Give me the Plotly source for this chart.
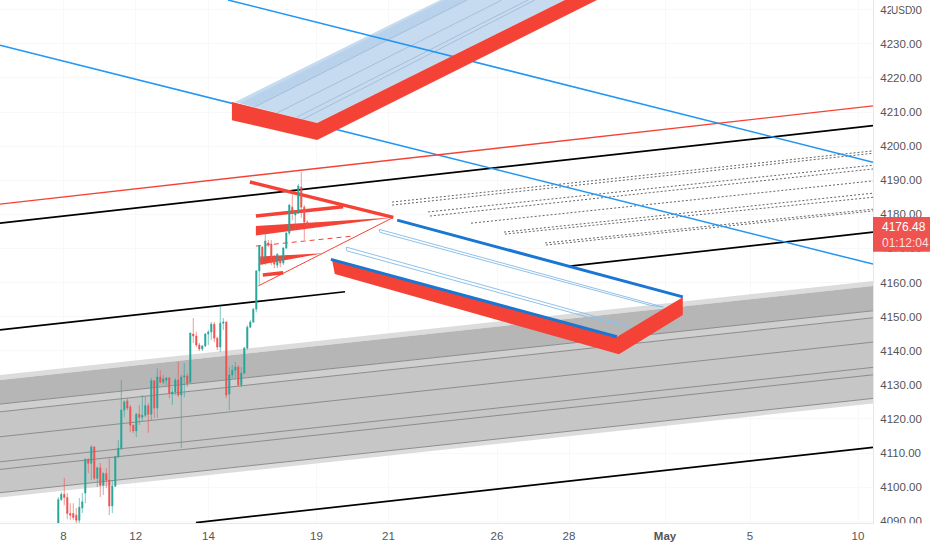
import plotly.graph_objects as go

BAR_START = 19.43
opens = [4088.9,4096.4,4097.9,4097.0,4092.3,4092.3,4091.8,4090.3,4093.9,4098.3,4108.1,4107.0,4111.8,4102.6,4105.7,4100.6,4104.0,4102.1,4094.5,4100.3,4108.9,4111.4,4122.6,4125.3,4123.5,4118.2,4116.5,4121.4,4120.5,4121.1,4123.9,4121.4,4131.2,4123.2,4132.3,4130.8,4131.4,4132.0,4127.3,4127.9,4131.4,4127.0,4132.3,4132.6,4130.8,4144.9,4144.3,4141.7,4140.5,4141.4,4144.9,4145.5,4147.8,4143.7,4141.1,4148.1,4148.4,4127.3,4132.9,4134.3,4135.2,4130.0,4133.4,4140.8,4146.9,4148.4,4152.2,4163.4,4170.4,4167.2,4171.6,4171.3,4167.2,4165.1,4167.5,4165.7,4170.1,4174.5,4182.1,4179.8,4180.4,4188.0,4182.1,4177.7]
highs = [4097.1,4098.6,4102.7,4098.3,4095.3,4095.3,4093.9,4096.8,4098.3,4108.5,4108.5,4112.3,4112.0,4106.0,4107.1,4104.4,4105.6,4108.5,4102.1,4109.1,4113.8,4131.4,4125.5,4126.1,4124.1,4118.2,4121.8,4124.1,4127.0,4126.7,4124.7,4132.0,4131.4,4134.9,4134.3,4132.9,4132.3,4132.3,4129.4,4132.0,4136.7,4132.9,4136.4,4133.4,4145.3,4149.6,4145.6,4142.3,4141.7,4145.2,4146.1,4148.4,4148.4,4144.0,4153.1,4149.6,4148.7,4135.2,4135.8,4136.7,4135.8,4135.2,4141.1,4147.5,4149.0,4152.5,4163.7,4171.0,4170.7,4175.4,4172.5,4172.5,4168.1,4168.6,4167.8,4170.4,4174.8,4183.0,4186.5,4181.3,4188.9,4192.4,4182.7,4178.3]
lows = [4087.4,4095.9,4094.7,4090.6,4090.3,4090.3,4089.5,4089.5,4092.4,4095.3,4104.1,4102.1,4102.1,4100.0,4097.1,4097.7,4099.7,4091.8,4092.4,4100.0,4108.5,4110.9,4120.5,4122.6,4116.1,4115.9,4114.7,4118.2,4119.4,4120.5,4115.9,4119.7,4120.3,4120.3,4130.5,4130.2,4129.9,4126.1,4124.1,4127.0,4126.4,4111.5,4126.4,4129.4,4130.5,4142.3,4141.1,4139.9,4139.9,4141.1,4141.7,4143.1,4142.5,4140.2,4139.6,4146.1,4126.1,4122.6,4132.0,4132.0,4129.4,4129.4,4133.2,4140.2,4146.7,4148.1,4151.3,4159.3,4165.1,4165.1,4170.4,4165.1,4164.2,4164.2,4164.5,4165.1,4169.8,4173.9,4178.3,4175.4,4180.1,4178.9,4172.5,4176.0]
closes = [4096.4,4097.9,4097.0,4092.3,4091.8,4091.1,4090.3,4094.1,4095.7,4108.1,4107.0,4111.8,4102.6,4105.7,4100.6,4104.0,4102.1,4094.5,4100.3,4108.9,4111.4,4122.6,4125.0,4123.2,4118.2,4116.5,4121.4,4120.5,4121.1,4123.9,4121.4,4131.2,4123.2,4132.3,4130.8,4131.7,4132.0,4127.6,4127.9,4131.4,4127.0,4132.3,4132.6,4130.5,4145.2,4144.3,4141.7,4140.5,4141.4,4144.9,4145.5,4147.8,4143.7,4141.1,4148.1,4148.4,4127.0,4132.9,4134.3,4135.2,4130.0,4133.4,4140.8,4146.9,4148.4,4152.2,4163.4,4170.7,4166.9,4172.2,4171.0,4166.0,4165.4,4168.3,4165.7,4170.1,4174.5,4182.7,4180.7,4180.7,4188.3,4182.1,4177.7,4176.48]
bars = [BAR_START + i for i in range(len(opens))]

x_ticks = [21.17, 45.23, 69.5, 105.5, 129.5, 165.67, 189.67, 221.67, 250, 286]
x_labels = ["8", "12", "14", "19", "21", "26", "28", "<b>May</b>", "5", "10"]
price_ticks = [4090 + 10 * i for i in range(16)]

X_END = 291
Y_TOP = 4242.84
GREEN, RED = "#26a69a", "#ef5350"
DRAW_RED = "#f44336"
LINE_BLUE, THICK_BLUE = "#2196f3", "#1976d2"

# regression band: value at the left and the right edge of the chart
band_levels = {
    "outer_top": (4132.87, 4160.43), "dark_top": (4131.40, 4158.97),
    "a": (4124.36, 4151.72), "b": (4122.10, 4149.67), "c": (4114.77, 4142.54),
    "d": (4107.44, 4135.13), "e": (4105.21, 4132.95),
    "inner_bottom": (4098.38, 4126.03), "outer_bottom": (4096.94, 4124.57),
}
# trend lines: bar0, price0, bar1, price1
black_lines = [(0, 4177.4, X_END, 4206.0), (0, 4146.1, 115, 4157.3),
               (190, 4164.8, X_END, 4174.8), (65.3, 4089.6, X_END, 4111.7)]
blue_lines = [(76, Y_TOP, X_END, 4195.3), (0, 4229.6, X_END, 4165.4)]
red_line = (0, 4183.0, X_END, 4211.8)
dotted_lines = [(130.7, 4183.6, X_END, 4198.6), (130.7, 4182.7, X_END, 4197.9),
                (142.7, 4180.7, X_END, 4194.4), (143.3, 4179.5, X_END, 4193.3),
                (157, 4177.4, X_END, 4189.8), (168, 4174.8, X_END, 4186.2),
                (168.3, 4174.2, X_END, 4185.0), (181.7, 4171.6, X_END, 4181.5),
                (182, 4171.0, X_END, 4181.0)]
# upper block
top_face = [(78.3, 4212.9), (105.7, 4206.8), (188.3, Y_TOP), (146.7, Y_TOP)]
top_dark = [(80, 4212.6), (85, 4211.5), (155.7, Y_TOP), (148.3, Y_TOP)]
top_side = [(77.3, 4212.9), (105.7, 4206.8), (188.3, Y_TOP), (199, Y_TOP), (105.7, 4201.8), (77.3, 4207.6)]
top_inner = [(85, 4211.5, 155.7, Y_TOP), (92.3, 4209.7, 167.3, Y_TOP),
             (99, 4208.5, 176, Y_TOP), (101, 4207.9, 178.3, Y_TOP)]
# lower block
low_side = [(110.7, 4166.6), (205.6, 4144.0), (227.6, 4155.7), (227.6, 4150.5), (206.3, 4139.0), (111.6, 4162.5)]
low_edges = [(110.3, 4166.8, 205.6, 4144.1), (132.4, 4178.3, 227.6, 4155.8)]
low_outlines = [[(126.4, 4175.6), (221.1, 4152.8), (217, 4153.3), (126.7, 4174.7)],
                [(115.4, 4170.4), (210, 4147.2), (205.7, 4147.5), (115.6, 4169.3)]]
# pennant drawing
pennant_thick = [(83.3, 4189.5, 131.1, 4179.1, 3.5), (85.3, 4179.5, 114.4, 4182.2, 3.5), (87.6, 4162.2, 94.4, 4162.9, 3.5)]
pennant_wedges = [[(85.3, 4176.6), (131, 4179.1), (85.3, 4173.8)],
                  [(86.7, 4167.6), (107.7, 4168.6), (86.7, 4165.2)]]
pennant_thin = (86.1, 4159.0, 131.1, 4179.1)
pennant_dash = (85.3, 4170.7, 117.3, 4173.6)


def poly(points, fill, line=None, width=0):
    path = "M" + " L".join(f"{x},{y}" for x, y in points) + " Z"
    return dict(type="path", xref="x", yref="y", path=path, fillcolor=fill, layer="between",
                line=dict(color=line or fill, width=width))


def seg(s, color, width, dash="solid"):
    return dict(type="line", xref="x", yref="y", x0=s[0], y0=s[1], x1=s[2], y1=s[3], layer="between",
                line=dict(color=color, width=width, dash=dash))


def band(upper, lower, fill):
    u, l = band_levels[upper], band_levels[lower]
    return poly([(0, u[0]), (X_END, u[1]), (X_END, l[1]), (0, l[0])], fill)


shapes = [
    band("outer_top", "dark_top", "#dcdcdc"),
    band("dark_top", "a", "#b6b6b6"),
    band("a", "b", "#cfcfcf"),
    band("b", "inner_bottom", "#c6c6c6"),
    band("inner_bottom", "outer_bottom", "#dcdcdc"),
]
for key in ["a", "b", "c", "d", "e", "inner_bottom"]:
    v = band_levels[key]
    shapes.append(seg((0, v[0], X_END, v[1]), "#8c8c8c", 1))
shapes += [seg(s, "#000000", 1.7) for s in black_lines]
shapes += [seg(s, "#666666", 1, "2px,2px") for s in dotted_lines]
shapes.append(poly(top_face, "#c6dbf0"))
shapes.append(poly(top_dark, "#b9d2eb"))
shapes += [seg(s, "#a6bfd9", 1) for s in top_inner]
shapes += [seg(s, LINE_BLUE, 1.5) for s in blue_lines]
shapes.append(seg(red_line, DRAW_RED, 1.4))
shapes.append(poly(top_side, DRAW_RED))
shapes.append(poly(low_side, DRAW_RED))
shapes += [poly(o, "rgba(0,0,0,0)", "#8fc1ea", 1) for o in low_outlines]
shapes += [seg(s, THICK_BLUE, 3) for s in low_edges]
shapes += [seg(s[:4], DRAW_RED, s[4]) for s in pennant_thick]
shapes += [poly(w, DRAW_RED) for w in pennant_wedges]
shapes.append(seg(pennant_thin, DRAW_RED, 1))
shapes.append(seg(pennant_dash, DRAW_RED, 1, "5px,4px"))
# covers the lower half of the last price label; price tag box
shapes.append(dict(type="rect", xref="paper", yref="paper", x0=1.001, x1=1.07, y0=-0.0005, y1=-0.06,
                   fillcolor="#ffffff", line=dict(width=0), layer="above"))
shapes.append(dict(type="rect", xref="paper", yref="paper", x0=1, x1=1.0653, y0=0.5187, y1=0.5851,
                   fillcolor=RED, line=dict(width=0), layer="above"))

candles = go.Candlestick(x=bars, open=opens, high=highs, low=lows, close=closes, whiskerwidth=0,
                         increasing=dict(line=dict(color=GREEN, width=0.6), fillcolor=GREEN),
                         decreasing=dict(line=dict(color=RED, width=0.6), fillcolor=RED),
                         hoverinfo="skip", showlegend=False)

fig = go.Figure([candles])
FONT = "Liberation Sans"
TXT = "#555555"
fig.update_layout(
    width=932, height=550, autosize=False, margin=dict(l=0, r=59, t=0, b=27),
    paper_bgcolor="#ffffff", plot_bgcolor="#ffffff", showlegend=False, hovermode=False, boxgap=0.35,
    font=dict(family=FONT, size=12, color=TXT), shapes=shapes,
    xaxis=dict(range=[0, 291], tickmode="array", tickvals=x_ticks, ticktext=x_labels,
               rangeslider=dict(visible=False), showgrid=True, gridcolor="#f8f8fa", zeroline=False,
               showline=True, linecolor="#e6e7ea", ticks="outside", ticklen=2, tickcolor="rgba(0,0,0,0)",
               tickfont=dict(family=FONT, size=11.5, color=TXT)),
    yaxis=dict(range=[4089.5, Y_TOP], side="right", tickmode="array", tickvals=price_ticks,
               tickformat=".2f", showgrid=True, gridcolor="#f8f8fa", zeroline=False,
               showline=True, linecolor="#e6e7ea", ticks="outside", ticklen=4, tickcolor="rgba(0,0,0,0)",
               tickfont=dict(family=FONT, size=11.5, color=TXT)),
    annotations=[
        dict(xref="paper", yref="paper", x=880 / 873, y=1 - 227 / 523, xanchor="left", yanchor="middle",
             text="4176.48", showarrow=False, font=dict(family=FONT, size=12, color="#ffffff")),
        dict(xref="paper", yref="paper", x=880 / 873, y=1 - 243 / 523, xanchor="left", yanchor="middle",
             text="01:12:04", showarrow=False, font=dict(family=FONT, size=12, color="#ffdede")),
        dict(xref="paper", yref="paper", x=901.5 / 873, y=1 - 10 / 523, xanchor="center", yanchor="middle",
             text="USD", showarrow=False, bgcolor="#ffffff", borderwidth=0, borderpad=0,
             font=dict(family=FONT, size=10, color=TXT)),
    ],
)
fig.write_html("out.html", config=dict(displayModeBar=False), post_script="document.body.style.margin='0';")
